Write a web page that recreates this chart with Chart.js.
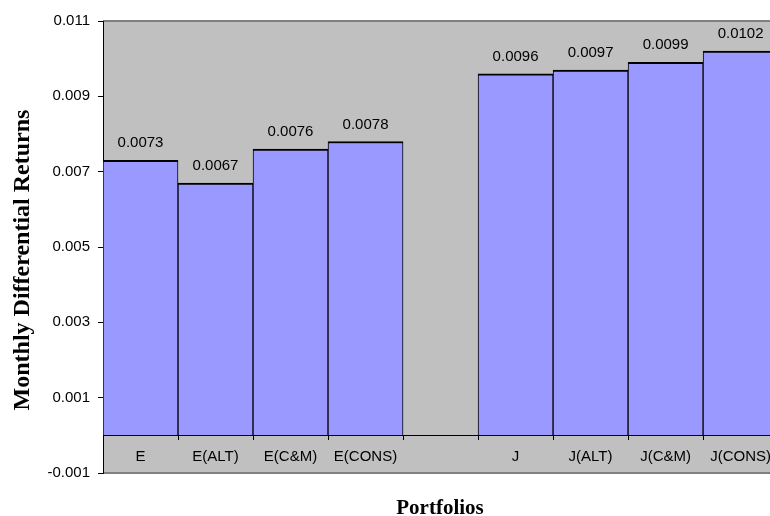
<!DOCTYPE html>
<html lang="en">
<head>
    <meta charset="UTF-8">
    <title>Monthly Differential Returns</title>
    <script src="https://cdn.jsdelivr.net/npm/chart.js"></script>
    <style>
        html, body { margin: 0; padding: 0; background: #fff; overflow: hidden; }
        #wrap { width: 780px; height: 516px; }
    </style>
</head>
<body>
    <div id="wrap"><canvas id="chart" width="780" height="516"></canvas></div>

    <script>
        // data
        const portfolios = ['E', 'E(ALT)', 'E(C&M)', 'E(CONS)', '', 'J', 'J(ALT)', 'J(C&M)', 'J(CONS)'];
        const returns = [0.0073, 0.0067, 0.0076, 0.0078, null, 0.0096, 0.0097, 0.0099, 0.0102];
        const returnLabels = ['0.0073', '0.0067', '0.0076', '0.0078', '', '0.0096', '0.0097', '0.0099', '0.0102'];
        const yTicks = [-0.001, 0.001, 0.003, 0.005, 0.007, 0.009, 0.011];
        const yTickLabels = ['-0.001', '0.001', '0.003', '0.005', '0.007', '0.009', '0.011'];

        const sans = "'Liberation Sans', Arial, sans-serif";
        const serif = "'Liberation Serif', 'Times New Roman', serif";

        // grey plot area + frame, drawn before the scales
        const plotArea = {
            id: 'plotArea',
            beforeDraw(chart) {
                const { ctx, chartArea: a } = chart;
                ctx.save();
                ctx.fillStyle = '#C0C0C0';
                ctx.fillRect(a.left, a.top, a.right - a.left, a.bottom - a.top);
                ctx.strokeStyle = '#808080';
                ctx.lineWidth = 2;
                ctx.beginPath();
                ctx.moveTo(a.left, a.top);
                ctx.lineTo(a.right, a.top);
                ctx.moveTo(a.left, a.bottom);
                ctx.lineTo(a.right, a.bottom);
                ctx.stroke();
                ctx.restore();
            }
        };

        // value above each bar
        const barValues = {
            id: 'barValues',
            afterDatasetsDraw(chart) {
                const { ctx } = chart;
                const meta = chart.getDatasetMeta(0);
                ctx.save();
                ctx.font = '15px ' + sans;
                ctx.fillStyle = '#000';
                ctx.textAlign = 'center';
                ctx.textBaseline = 'alphabetic';
                meta.data.forEach((bar, i) => {
                    if (returns[i] === null) return;
                    ctx.fillText(returnLabels[i], bar.x, bar.y - 13);
                });
                ctx.restore();
            }
        };

        // axis titles
        const axisTitles = {
            id: 'axisTitles',
            afterDraw(chart) {
                const { ctx } = chart;
                ctx.save();
                ctx.fillStyle = '#000';
                ctx.textAlign = 'center';
                ctx.font = 'bold 21px ' + serif;
                ctx.textBaseline = 'alphabetic';
                ctx.fillText('Portfolios', 440, 514);
                ctx.translate(23, 260);
                ctx.rotate(-Math.PI / 2);
                ctx.font = 'bold 24px ' + serif;
                ctx.textBaseline = 'middle';
                ctx.fillText('Monthly Differential Returns', 0, 0);
                ctx.restore();
            }
        };

        new Chart(document.getElementById('chart'), {
            type: 'bar',
            data: {
                labels: portfolios,
                datasets: [{
                    data: returns,
                    backgroundColor: '#9999FF',
                    borderColor: '#000',
                    borderWidth: { top: 2, left: 1, right: 1, bottom: 0 },
                    categoryPercentage: 1,
                    barPercentage: 1
                }]
            },
            options: {
                responsive: false,
                animation: false,
                devicePixelRatio: 1,
                layout: { padding: { top: 21, bottom: 43, left: 0, right: 0 } },
                plugins: {
                    legend: { display: false },
                    tooltip: { enabled: false }
                },
                scales: {
                    x: {
                        position: { y: 0 },
                        grid: { offset: true, drawOnChartArea: false, drawTicks: true, tickLength: 4, color: '#000', z: 1 },
                        border: { display: true, color: '#000', width: 1, z: 1 },
                        ticks: { color: '#000', font: { family: sans, size: 15 }, padding: 9, maxRotation: 0, autoSkip: false, z: 1 }
                    },
                    y: {
                        min: -0.001,
                        max: 0.011,
                        afterBuildTicks(scale) {
                            scale.ticks = yTicks.map(v => ({ value: v }));
                        },
                        afterFit(scale) {
                            scale.width = 103;
                        },
                        grid: { drawOnChartArea: false, drawTicks: true, tickLength: 5, color: '#000' },
                        border: { display: true, color: '#000', width: 1 },
                        ticks: {
                            color: '#000',
                            font: { family: sans, size: 15 },
                            padding: 8,
                            callback: (value, index) => yTickLabels[index]
                        }
                    }
                }
            },
            plugins: [plotArea, barValues, axisTitles]
        });
    </script>
</body>
</html>
